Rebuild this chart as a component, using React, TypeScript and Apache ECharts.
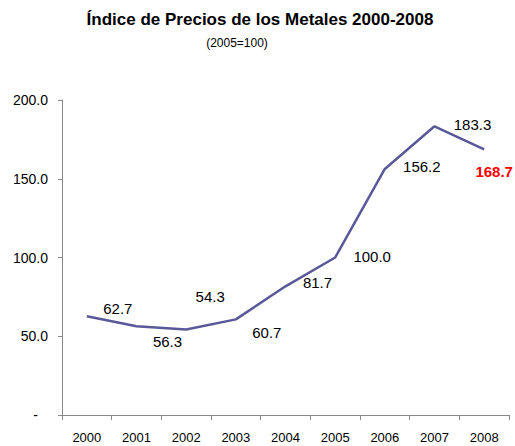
import React, { useEffect, useRef } from "react";
import * as echarts from "echarts";

const years = ["2000", "2001", "2002", "2003", "2004", "2005", "2006", "2007", "2008"];
const values = [62.7, 56.3, 54.3, 60.7, 81.7, 100.0, 156.2, 183.3, 168.7];
const labelOffsets: [number, number][] = [
  [31, -8], [31, 15], [24, -33], [31, 13], [32, -4], [37, -1], [37, -2], [38, -2], [10, 22],
];

export default function App() {
  const ref = useRef<HTMLDivElement>(null);
  useEffect(() => {
    const chart = echarts.init(ref.current!, null, { renderer: "svg" });
    const font = "Liberation Sans, Arial, sans-serif";
    chart.setOption({
      animation: false,
      title: [
        {
          text: "Índice de Precios de los Metales 2000-2008",
          left: 255,
          textAlign: "center",
          top: 6,
          textStyle: { fontFamily: font, fontSize: 17, fontWeight: "bold", color: "#000" },
        },
        {
          text: "(2005=100)",
          left: 232,
          textAlign: "center",
          top: 32,
          textStyle: { fontFamily: font, fontSize: 12, fontWeight: "normal", color: "#000" },
        },
      ],
      grid: { left: 62, right: 6, top: 100, bottom: 31, containLabel: false },
      xAxis: {
        type: "category",
        data: years,
        boundaryGap: true,
        axisLine: { lineStyle: { color: "#888", width: 1 } },
        axisTick: { show: true, length: 5, lineStyle: { color: "#888" } },
        axisLabel: { color: "#000", fontFamily: font, fontSize: 13, margin: 16 },
      },
      yAxis: {
        type: "value",
        min: 0,
        max: 200,
        interval: 50,
        splitLine: { show: false },
        axisLine: { show: true, lineStyle: { color: "#888", width: 1 } },
        axisTick: { show: true, length: 4, lineStyle: { color: "#888" } },
        axisLabel: {
          color: "#000",
          fontFamily: font,
          fontSize: 14,
          margin: 14,
          formatter: (v: number) => (v === 0 ? "{d|-}" : v.toFixed(1)),
          rich: { d: { fontFamily: font, fontSize: 14, color: "#000", padding: [0, 10, 0, 0] } },
        },
      },
      series: [
        {
          type: "line",
          data: values.map((v, i) => ({
            value: v,
            label: {
              show: true,
              position: "inside",
              offset: labelOffsets[i],
              formatter: v.toFixed(1),
              color: i === values.length - 1 ? "#FF0000" : "#000",
              fontWeight: i === values.length - 1 ? "bold" : "normal",
              fontFamily: font,
              fontSize: 15,
            },
          })),
          symbol: "circle",
          symbolSize: 1,
          showSymbol: true,
          itemStyle: { color: "rgba(0,0,0,0)" },
          lineStyle: { color: "#5B5899", width: 2.5 },
        },
      ],
    });
    return () => chart.dispose();
  }, []);
  return <div ref={ref} style={{ width: 515, height: 446, position: "absolute", left: 0, top: 0 }} />;
}
